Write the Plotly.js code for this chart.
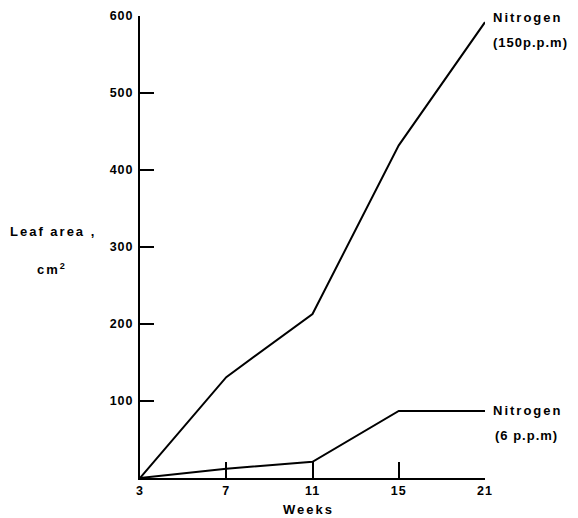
<!DOCTYPE html>
<html>
<head>
<meta charset="utf-8">
<script src="https://cdn.plot.ly/plotly-3.0.1.min.js"></script>
<style>
html,body{margin:0;padding:0;background:#fff;}
#chart{width:578px;height:518px;}
#chart .annotation-text{letter-spacing:2px;}
#chart .xtick text,#chart .ytick text{letter-spacing:1px;}
</style>
</head>
<body>
<div id="chart"></div>
<script>
const weeks = ['3', '7', '11', '15', '21'];
const nitrogen150 = [0, 131, 213, 432, 592];
const nitrogen6 = [0, 12, 21, 87, 87];
const yTicks = [100, 200, 300, 400, 500, 600];

const font = {family: 'Liberation Sans, Arial, sans-serif', size: 13, color: '#000'};
const bold = s => '<b>' + s + '</b>';
const tight = s => '<span style="letter-spacing:1px"><b>' + s + '</b></span>';

const traces = [
  {x: weeks, y: nitrogen150, type: 'scatter', mode: 'lines', line: {color: '#000', width: 2}, hoverinfo: 'skip'},
  {x: weeks, y: nitrogen6, type: 'scatter', mode: 'lines', line: {color: '#000', width: 2}, hoverinfo: 'skip'}
];

const layout = {
  width: 578, height: 518,
  margin: {l: 140, r: 93, t: 16, b: 40},
  paper_bgcolor: '#fff', plot_bgcolor: '#fff',
  showlegend: false,
  font: font,
  xaxis: {
    type: 'category', range: [0, 4],
    showgrid: false, zeroline: false,
    showline: true, linecolor: '#000', linewidth: 2,
    ticks: 'inside', ticklen: 16, tickwidth: 2, tickcolor: '#000',
    tickfont: {family: font.family, size: 12.5, color: '#000', weight: 'bold'},
    ticklabelstandoff: 0
  },
  yaxis: {
    range: [0, 600],
    tickvals: yTicks, ticktext: yTicks.map(String),
    showgrid: false, zeroline: false,
    showline: true, linecolor: '#000', linewidth: 2,
    ticks: 'inside', ticklen: 14, tickwidth: 2, tickcolor: '#000',
    tickfont: {family: font.family, size: 12.5, color: '#000', weight: 'bold'},
    ticklabelstandoff: 2
  },
  annotations: [
    {x: 4, y: nitrogen150[4], xref: 'x', yref: 'y', text: bold('Nitrogen'), showarrow: false, xanchor: 'left', yanchor: 'middle', xshift: 14, yshift: 5},
    {x: 4, y: nitrogen150[4], xref: 'x', yref: 'y', text: tight('(150p.p.m)'), showarrow: false, xanchor: 'left', yanchor: 'middle', xshift: 6, yshift: -20},
    {x: 4, y: nitrogen6[4], xref: 'x', yref: 'y', text: bold('Nitrogen'), showarrow: false, xanchor: 'left', yanchor: 'middle', xshift: 14, yshift: 1},
    {x: 4, y: nitrogen6[4], xref: 'x', yref: 'y', text: tight('(6 p.p.m)'), showarrow: false, xanchor: 'left', yanchor: 'middle', xshift: 8, yshift: -24},
    {x: -0.377, y: 0.533, xref: 'paper', yref: 'paper', text: bold('Leaf area ,'), showarrow: false, xanchor: 'left', yanchor: 'middle', xshift: 9},
    {x: -0.304, y: 0.453, xref: 'paper', yref: 'paper', text: bold('cm<sup>2</sup>'), showarrow: false, xanchor: 'left', yanchor: 'middle', xshift: 3},
    {x: 0.487, y: -0.069, xref: 'paper', yref: 'paper', text: bold('Weeks'), showarrow: false, xanchor: 'center', yanchor: 'middle'}
  ]
};

Plotly.newPlot('chart', traces, layout, {displayModeBar: false, staticPlot: true});
</script>
</body>
</html>
